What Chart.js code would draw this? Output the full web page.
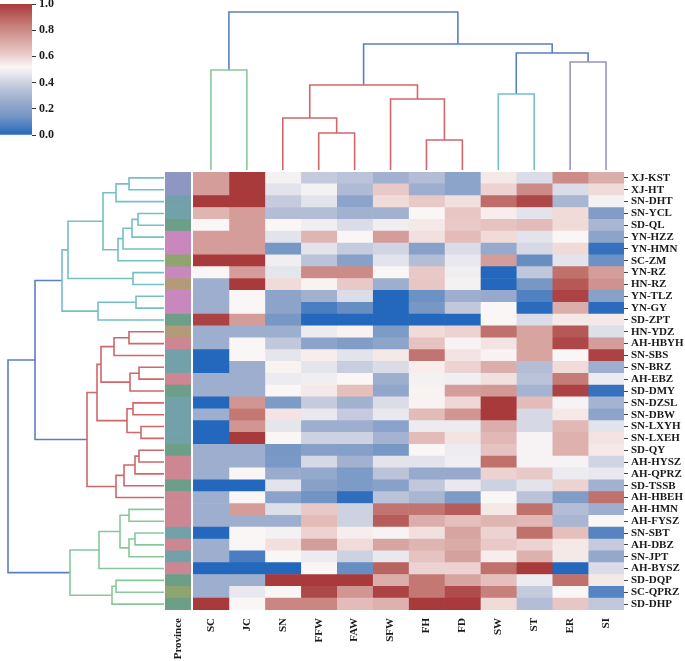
<!DOCTYPE html>
<html>
<head>
<meta charset="utf-8">
<script src="https://cdn.jsdelivr.net/npm/chart.js@4"></script>
<style>
  body { margin: 0; background: #fff; }
  #wrap { position: relative; width: 685px; height: 661px; overflow: hidden; }
  canvas { position: absolute; }
</style>
</head>
<body>
<div id="wrap">
  <canvas id="cbar" width="60" height="140" style="left:0px;top:0px"></canvas>
  <canvas id="coldendro" width="431" height="170" style="left:193px;top:0px"></canvas>
  <canvas id="rowdendro" width="164" height="438" style="left:0px;top:172px"></canvas>
  <canvas id="prov" width="26" height="489" style="left:165px;top:172px"></canvas>
  <canvas id="heat" width="492" height="489" style="left:193px;top:172px"></canvas>
</div>
<script>
// ---- data ---------------------------------------------------------------
const rowLabels = ['XJ-KST', 'XJ-HT', 'SN-DHT', 'SN-YCL', 'SD-QL', 'YN-HZZ', 'YN-HMN', 'SC-ZM',
  'YN-RZ', 'HN-RZ', 'YN-TLZ', 'YN-GY', 'SD-ZPT', 'HN-YDZ', 'AH-HBYH', 'SN-SBS', 'SN-BRZ',
  'AH-EBZ', 'SD-DMY', 'SN-DZSL', 'SN-DBW', 'SN-LXYH', 'SN-LXEH', 'SD-QY', 'AH-HYSZ',
  'AH-QPRZ', 'SD-TSSB', 'AH-HBEH', 'AH-HMN', 'AH-FYSZ', 'SN-SBT', 'AH-DBZ', 'SN-JPT',
  'AH-BYSZ', 'SD-DQP', 'SC-QPRZ', 'SD-DHP'];
const colLabels = ['SC', 'JC', 'SN', 'FFW', 'FAW', 'SFW', 'FH', 'FD', 'SW', 'ST', 'ER', 'SI'];
const cbarTicks = [0, 0.2, 0.4, 0.6, 0.8, 1.0];

// normalised values, one array per column, rows in the order above
const valSC  = [.75,.75,1,.68,.52,.75,.75,1,.52,.27,.27,.27,.98,.27,.27,0,0,.27,.27,0,.27,0,0,.27,.27,.27,0,.27,.27,.27,0,.27,.27,0,.27,.27,1];
const valJC  = [1,1,1,.75,.75,.75,.75,1,.75,1,.52,.52,.75,.27,.52,.52,.27,.27,.27,.77,.85,.77,1,.27,.27,.52,0,.52,.75,.27,.52,.52,.07,0,.27,.47,.52];
const valSN  = [.5,.45,.38,.33,.52,.45,.15,.49,.46,.58,.22,.22,.15,.27,.37,.46,.53,.48,.52,.17,.56,.46,.52,.15,.16,.26,.45,.21,.44,.27,.5,.57,.52,0,1,.52,.81];
const valFFW = [.38,.5,.45,.33,.49,.68,.45,.35,.8,.53,.28,.07,0,.48,.22,.54,.46,.49,.55,.38,.47,.27,.4,.2,.42,.24,.2,.14,.62,.66,.6,.75,.48,.52,1,.97,.81];
const valFAW = [.35,.32,.22,.28,.43,.52,.38,.2,.8,.62,.43,.12,0,.53,.18,.45,.39,.52,.65,.28,.38,.27,.4,.19,.28,.17,.17,.02,.4,.4,.54,.58,.4,.12,1,.77,.66];
const valSFW = [.28,.62,.58,.28,.49,.75,.41,.45,.52,.27,0,0,0,.17,.22,.55,.43,.27,.23,.43,.47,.21,.29,.15,.45,.35,.2,.35,.86,.92,.51,.73,.47,.9,.7,.98,.69];
const valFH  = [.33,.27,.62,.52,.55,.57,.2,.33,.62,.63,.13,.15,0,.58,.64,.86,.54,.5,.53,.53,.66,.48,.66,.52,.45,.25,.37,.3,.86,.7,.57,.68,.64,.6,.85,.85,1];
const valFD  = [.22,.22,.57,.63,.62,.66,.43,.47,.49,.5,.27,.37,0,.6,.51,.56,.6,.49,.75,.59,.77,.48,.56,.48,.49,.25,.47,.17,.92,.65,.73,.71,.74,.6,.73,.96,1];
const valSW  = [.55,.6,.88,.54,.64,.58,.25,.75,0,0,.25,.52,.52,.87,.56,.53,.7,.57,.76,1,1,.7,.67,.64,.87,.6,.4,.52,.55,.68,.6,.62,.54,.87,.65,.83,.58];
const valST  = [.43,.8,.97,.45,.66,.45,.42,.12,.37,.15,.08,.01,.43,.73,.73,.73,.33,.35,.29,.66,.42,.42,.51,.51,.51,.62,.45,.35,.87,.67,.87,.6,.69,1,.48,.38,.33];
const valER  = [.8,.43,.3,.58,.58,.52,.58,.45,.87,.93,.98,.7,.55,.93,.97,.52,.58,.84,.98,.51,.55,.67,.69,.69,.51,.48,.6,.18,.33,.3,.65,.55,.55,0,.87,.52,.63];
const valSI  = [.7,.58,.5,.18,.3,.22,.03,.13,.75,.78,.2,.01,.55,.44,.75,.98,.27,.48,.03,.29,.22,.45,.56,.55,.41,.47,.28,.87,.27,.52,.09,.38,.24,.43,.55,.09,.37];
const columnValues = [valSC, valJC, valSN, valFFW, valFAW, valSFW, valFH, valFD, valSW, valST, valER, valSI];

// linkages: [child a, child b, distance]; numbers are leaves, 'Lk' is link k
const colLinks = [
  [0, 1, 100], [3, 4, 37], [2, 'L1', 52], [6, 7, 30], [5, 'L3', 71], ['L2', 'L4', 85],
  [8, 9, 76], [10, 11, 108], ['L6', 'L7', 117], ['L5', 'L8', 126], ['L0', 'L9', 158]
];
const rowLinks = [
  [0, 1, 35], ['L0', 2, 48], [3, 4, 26], ['L2', 5, 32], ['L3', 6, 41], ['L4', 7, 46],
  ['L1', 'L5', 61], [8, 9, 31], ['L6', 'L7', 96], [10, 11, 28], ['L9', 12, 66], ['L8', 'L10', 102],
  [13, 14, 35], ['L12', 15, 50], [16, 17, 25], ['L14', 18, 34], ['L13', 'L15', 63], [19, 20, 31],
  [21, 22, 23], ['L17', 'L18', 37], ['L16', 'L19', 67], [23, 24, 25], ['L21', 25, 29], ['L22', 26, 40],
  ['L23', 27, 48], ['L20', 'L24', 77], ['L11', 'L25', 129],
  [28, 29, 35], [30, 31, 29], ['L28', 32, 35], ['L27', 'L29', 44], ['L30', 33, 65],
  [34, 35, 48], ['L32', 36, 52], ['L31', 'L33', 94], ['L26', 'L34', 156]
];
const colLinkGroups = ['green', 'red', 'red', 'red', 'red', 'red', 'teal', 'purple', 'blue', 'blue', 'blue'];
const rowLinkGroups = [
  'teal', 'teal', 'teal', 'teal', 'teal', 'teal', 'teal', 'teal', 'teal', 'teal', 'teal', 'teal',
  'red', 'red', 'red', 'red', 'red', 'red', 'red', 'red', 'red', 'red', 'red', 'red', 'red', 'red',
  'blue', 'green', 'green', 'green', 'green', 'green', 'green', 'green', 'green', 'blue'
];

// ---- styles ---------------------------------------------------------------
const linkColors = { blue: '#5b7fc4', green: '#88c79c', red: '#d0676b', teal: '#74c0c2', purple: '#9e93bd' };
const provinceColors = { XJ: '#8e97c2', SN: '#73a1a9', SD: '#6d9f88', YN: '#c887bd', SC: '#8fa56f', HN: '#b39a78', AH: '#cc8792' };
const cmapStops = [
  [0.0, [36, 104, 189]], [0.15, [119, 151, 197]], [0.27, [157, 174, 206]], [0.38, [197, 203, 221]],
  [0.45, [226, 227, 235]], [0.52, [250, 246, 245]], [0.62, [233, 201, 199]], [0.75, [212, 157, 153]],
  [0.87, [192, 113, 108]], [1.0, [168, 58, 60]]
];
const labelFont = { family: "'Liberation Serif', 'Times New Roman', serif", size: 11, weight: 'bold' };
const textColor = '#1a1a1a';

Chart.defaults.font.family = labelFont.family;
Chart.defaults.animation = false;
Chart.defaults.responsive = false;
Chart.defaults.plugins.legend.display = false;
Chart.defaults.plugins.tooltip.enabled = false;

function vlag(v) {
  for (let i = 1; i < cmapStops.length; i++) {
    const [p1, c1] = cmapStops[i];
    const [p0, c0] = cmapStops[i - 1];
    if (v <= p1) {
      const t = (v - p0) / (p1 - p0);
      const c = c0.map((x, k) => Math.round(x + (c1[k] - x) * t));
      return `rgb(${c[0]},${c[1]},${c[2]})`;
    }
  }
  return 'rgb(168,58,60)';
}

// turn a linkage list into U-shaped segments: points are [distance, leaf position]
function dendroSegments(links, groups) {
  const nodes = [];
  const ref = r => typeof r === 'number' ? { p: r + 0.5, h: 0 } : nodes[+r.slice(1)];
  return links.map(([a, b, h], k) => {
    const A = ref(a), B = ref(b);
    nodes.push({ p: (A.p + B.p) / 2, h });
    return { pts: [[A.h, A.p], [h, A.p], [h, B.p], [B.h, B.p]], color: linkColors[groups[k]] };
  });
}

function lineDatasets(segs, swap) {
  return segs.map(s => ({
    data: s.pts.map(([h, p]) => swap ? { x: h, y: p } : { x: p, y: h }),
    showLine: true,
    borderColor: s.color,
    borderWidth: 1.6,
    pointRadius: 0,
    fill: false,
    borderJoinStyle: 'miter',
    clip: 2
  }));
}

// bottom axis for a strip of columns: one rotated label per column centre
function columnAxis(names) {
  return {
    type: 'linear', min: 0, max: names.length,
    grid: { display: false, drawTicks: false, tickLength: 0 },
    border: { display: false },
    afterBuildTicks: s => { s.ticks = names.map((_, j) => ({ value: j + 0.5 })); },
    ticks: { autoSkip: false, minRotation: 90, maxRotation: 90, padding: 8, color: textColor, font: labelFont,
      callback: (v, i) => names[i] },
    afterFit: s => { s.height = 51; s.paddingLeft = 0; s.paddingRight = 0; }
  };
}

// ---- colour bar -------------------------------------------------------------
new Chart(document.getElementById('cbar'), {
  type: 'bar',
  data: {
    labels: [''],
    datasets: [{
      data: [[cbarTicks[0], cbarTicks[cbarTicks.length - 1]]],
      borderWidth: 0,
      backgroundColor: ctx => {
        const area = ctx.chart.chartArea;
        if (!area) return '#fff';
        const g = ctx.chart.ctx.createLinearGradient(0, area.bottom, 0, area.top);
        cmapStops.forEach(([p, c]) => g.addColorStop(p, `rgb(${c[0]},${c[1]},${c[2]})`));
        return g;
      }
    }]
  },
  options: {
    layout: { padding: { top: 4, bottom: 5, left: 0, right: 0 } },
    datasets: { bar: { barPercentage: 1, categoryPercentage: 1 } },
    scales: {
      x: { display: false },
      y: {
        min: 0, max: 1, position: 'right',
        afterBuildTicks: s => { s.ticks = cbarTicks.map(v => ({ value: v })); },
        ticks: { padding: 3, color: textColor, font: { ...labelFont, size: 12 }, callback: v => v.toFixed(1) },
        grid: { drawOnChartArea: false, tickLength: 4, color: '#333' },
        border: { display: false },
        afterFit: s => { s.width = 28; s.paddingTop = 0; s.paddingBottom = 0; }
      }
    }
  }
});

// ---- column dendrogram ------------------------------------------------------
new Chart(document.getElementById('coldendro'), {
  type: 'scatter',
  data: { datasets: lineDatasets(dendroSegments(colLinks, colLinkGroups), false) },
  options: {
    layout: { padding: 0 },
    scales: {
      x: { display: false, min: 0, max: colLabels.length },
      y: { display: false, min: 0, max: 170 }
    }
  }
});

// ---- row dendrogram -----------------------------------------------------------
new Chart(document.getElementById('rowdendro'), {
  type: 'scatter',
  data: { datasets: lineDatasets(dendroSegments(rowLinks, rowLinkGroups), true) },
  options: {
    layout: { padding: 0 },
    scales: {
      x: { display: false, min: 0, max: 164, reverse: true },
      y: { display: false, min: 0, max: rowLabels.length, reverse: true }
    }
  }
});

// ---- province strip -----------------------------------------------------------
new Chart(document.getElementById('prov'), {
  type: 'bar',
  data: {
    labels: rowLabels,
    datasets: [{
      data: rowLabels.map(() => [0, 1]),
      backgroundColor: rowLabels.map(r => provinceColors[r.split('-')[0]]),
      borderWidth: 0
    }]
  },
  options: {
    indexAxis: 'y',
    layout: { padding: 0 },
    datasets: { bar: { barPercentage: 1, categoryPercentage: 1 } },
    scales: {
      y: { display: false },
      x: columnAxis(['Province'])
    }
  }
});

// ---- heatmap ------------------------------------------------------------------
const heatDatasets = colLabels.map((c, j) => ({
  label: c,
  data: rowLabels.map(() => [j, j + 1]),
  backgroundColor: columnValues[j].map(vlag),
  borderWidth: 0
}));

new Chart(document.getElementById('heat'), {
  type: 'bar',
  data: { labels: rowLabels, datasets: heatDatasets },
  options: {
    indexAxis: 'y',
    layout: { padding: 0 },
    datasets: { bar: { grouped: false, barPercentage: 1, categoryPercentage: 1 } },
    scales: {
      y: {
        position: 'right',
        grid: { drawOnChartArea: false, offset: false, tickLength: 4, color: '#444' },
        border: { display: false },
        ticks: { autoSkip: false, padding: 3, color: textColor, font: labelFont },
        afterFit: s => { s.width = 61; s.paddingTop = 0; s.paddingBottom = 0; }
      },
      x: columnAxis(colLabels)
    }
  }
});
</script>
</body>
</html>
